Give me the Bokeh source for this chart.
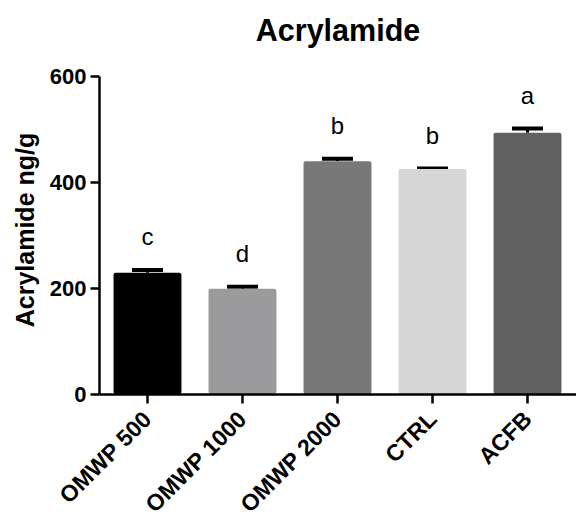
from bokeh.plotting import figure
from bokeh.models import Range1d, FixedTicker, Whisker, TeeHead, ColumnDataSource
from bokeh.core.properties import value
from bokeh.embed import file_html
from bokeh.resources import INLINE
import math

title_text = "Acrylamide"
y_label = "Acrylamide ng/g"
categories = ["OMWP 500", "OMWP 1000", "OMWP 2000", "CTRL", "ACFB"]
means = [229, 198.5, 439, 424.5, 493]
errors = [5, 4, 5, 1, 8]
letters = ["c", "d", "b", "b", "a"]
colors = ["#000000", "#9b9b9d", "#787878", "#d6d6d6", "#606060"]
y_ticks = [0, 200, 400, 600]

FONT = "Liberation Sans"
W, H = 576, 517
# pixel geometry of the reference plot area
AXIS_X_PX = 99          # column of the y axis
FIRST_CENTER_PX = 147   # column of the first bar centre
STEP_PX = 95            # distance between bar centres
Y0_PX, Y600_PX = 393.5, 75.5
ppu = (Y0_PX - Y600_PX) / (y_ticks[-1] - y_ticks[0])

x_start = (0 - FIRST_CENTER_PX) / STEP_PX
x_end = (W - FIRST_CENTER_PX) / STEP_PX
x_axis_at = (AXIS_X_PX - FIRST_CENTER_PX) / STEP_PX
y_end = y_ticks[-1] + Y600_PX / ppu
y_start = -(H - Y0_PX) / ppu

xs = list(range(len(categories)))
uppers = [m + e for m, e in zip(means, errors)]
letter_y = [u + 33 / ppu for u in uppers]

src = ColumnDataSource(dict(x=xs, top=means, upper=uppers, color=colors,
                            letter=letters, ly=letter_y))

x_range = Range1d(x_start, x_end)
y_range = Range1d(y_start, y_end)
p = figure(width=W, height=H, output_backend="svg", toolbar_location=None,
           x_range=x_range, y_range=y_range,
           min_border_left=0, min_border_right=0, min_border_top=0, min_border_bottom=0)
p.title.visible = False
p.outline_line_color = None
p.xgrid.visible = False
p.ygrid.visible = False
p.background_fill_color = "white"
p.border_fill_color = "white"

# title, centred over the plot area
p.text(x=[(x_axis_at + x_end) / 2], y=[y_ticks[-1] + 46 / ppu], text=[title_text],
       text_align="center", text_baseline="alphabetic", text_font=value(FONT),
       text_font_size="30.5px", text_font_style="bold", text_color="black")

# y-axis title, rotated, centred on the 0-600 axis
p.text(x=[(24 - FIRST_CENTER_PX) / STEP_PX], y=[(y_ticks[0] + y_ticks[-1]) / 2 + 5 / ppu],
       text=[y_label], angle=math.pi / 2, text_align="center", text_baseline="middle",
       text_font=value(FONT), text_font_size="25px", text_font_style="bold", text_color="black")

p.vbar(x="x", top="top", width=0.715, bottom=0, fill_color="color", line_color=None,
       border_radius=2, source=src)

w = Whisker(base="x", upper="upper", lower="top", source=src, line_width=3, line_color="black",
            upper_head=TeeHead(size=31, line_width=4, line_color="black"), lower_head=None)
p.add_layout(w)

p.text(x="x", y="ly", text="letter", source=src, text_align="center", text_baseline="alphabetic",
       text_font=value(FONT), text_font_size="24px", text_color="black")

# axes
for ax in (p.xaxis[0], p.yaxis[0]):
    ax.axis_line_width = 2.5
    ax.axis_line_color = "black"
    ax.major_tick_line_width = 2.5
    ax.major_tick_line_color = "black"
    ax.major_tick_out = 9
    ax.major_tick_in = 0
    ax.minor_tick_out = 0
    ax.minor_tick_in = 0
    ax.major_label_text_font = FONT
    ax.major_label_text_font_style = "bold"
    ax.major_label_text_color = "black"

p.yaxis.ticker = FixedTicker(ticks=y_ticks)
p.yaxis.fixed_location = x_axis_at
p.yaxis.bounds = (y_ticks[0], y_ticks[-1])
p.yaxis.major_label_text_font_size = "22px"
p.yaxis.major_label_standoff = 4

p.xaxis.ticker = FixedTicker(ticks=xs)
p.xaxis.fixed_location = 0
p.xaxis.bounds = (x_axis_at, x_end)
p.xaxis.major_label_overrides = {i: c for i, c in zip(xs, categories)}
p.xaxis.major_label_orientation = math.pi / 4
p.xaxis.major_label_text_font_size = "23px"
p.xaxis.major_label_standoff = 12

open("out.html", "w").write(file_html(p, INLINE))
